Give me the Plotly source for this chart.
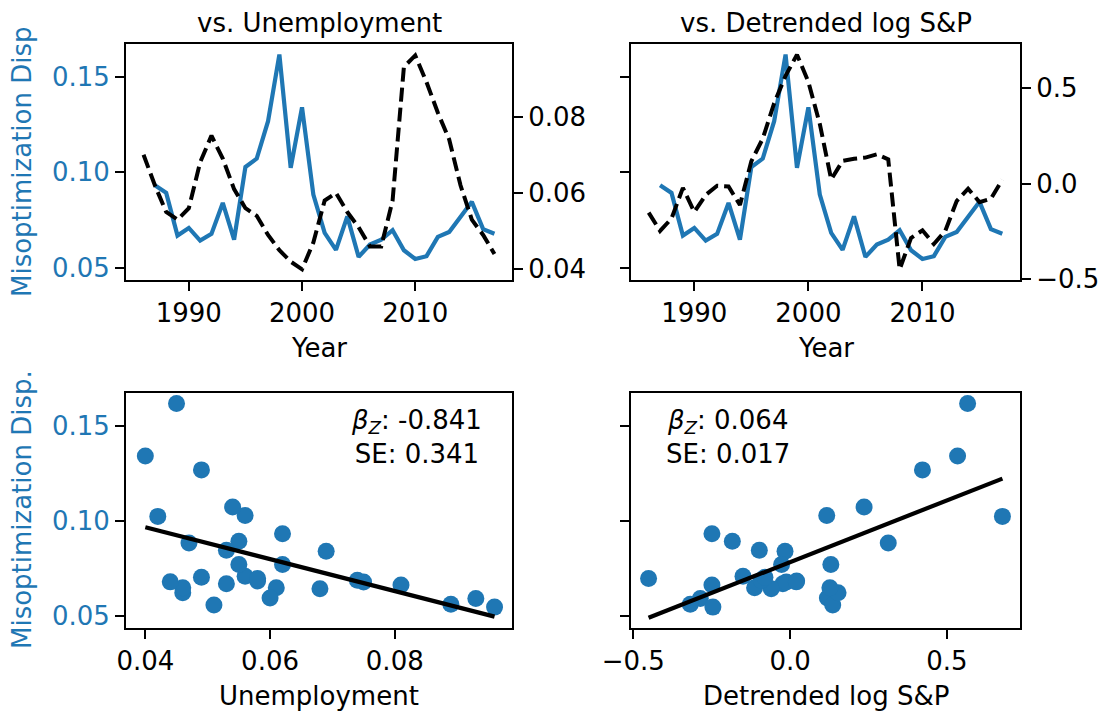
import numpy as np
import plotly.graph_objects as go

# ---------------- data ----------------
years = list(range(1986, 2018))
unemployment = [0.070, 0.062, 0.055, 0.053, 0.056, 0.068, 0.075, 0.069, 0.061, 0.056,
                0.054, 0.049, 0.045, 0.042, 0.040, 0.047, 0.058, 0.060, 0.055, 0.051,
                0.046, 0.046, 0.058, 0.093, 0.096, 0.089, 0.081, 0.074, 0.062, 0.053,
                0.049, 0.044]
sp_detrended = [-0.153, -0.249, -0.184, -0.023, -0.150, -0.060, -0.012, -0.016, -0.113, 0.117,
                0.236, 0.422, 0.566, 0.677, 0.534, 0.313, 0.021, 0.119, 0.130, 0.136,
                0.153, 0.127, -0.451, -0.286, -0.246, -0.318, -0.249, -0.092, -0.027, -0.098,
                -0.080, 0.020]
disp_years = list(range(1987, 2018))
misopt_disp = [0.0932, 0.0892, 0.0668, 0.0708, 0.0642, 0.0677, 0.0839, 0.0647, 0.1028, 0.1072,
               0.1268, 0.1618, 0.1023, 0.1341, 0.0883, 0.0682, 0.0593, 0.0769, 0.0556, 0.0621,
               0.0647, 0.0696, 0.0591, 0.0545, 0.0560, 0.0661, 0.0687, 0.0770, 0.0845, 0.0702,
               0.0678]
year_ticks = [1990, 2000, 2010]
disp_ticks = [0.05, 0.10, 0.15]
unemp_ticks = [0.04, 0.06, 0.08]
sp_ticks = [-0.5, 0.0, 0.5]
stats_unemp = ("-0.841", "0.341")
stats_sp = ("0.064", "0.017")

# pair same-year observations
u_pair = [unemployment[years.index(y)] for y in disp_years]
s_pair = [sp_detrended[years.index(y)] for y in disp_years]

def fit_line(x, y):
    b, a = np.polyfit(x, y, 1)
    xs = np.array([min(x), max(x)])
    return xs, a + b * xs

fu_x, fu_y = fit_line(u_pair, misopt_disp)
fs_x, fs_y = fit_line(s_pair, misopt_disp)

BLUE = "#1f77b4"
W, H = 1108, 715
FONT = "DejaVu Sans"
FS = 26

XL = [126 / W, 512 / W]
XR = [631 / W, 1020 / W]
YT = [1 - 280 / H, 1 - 44 / H]
YB = [1 - 628 / H, 1 - 393 / H]

fig = go.Figure()
# top-left
fig.add_trace(go.Scatter(x=disp_years, y=misopt_disp, mode="lines",
                         line=dict(color=BLUE, width=4.2), xaxis="x", yaxis="y", showlegend=False))
fig.add_trace(go.Scatter(x=years, y=unemployment, mode="lines",
                         line=dict(color="black", width=4, dash="14px,6px"),
                         xaxis="x", yaxis="y2", showlegend=False))
# top-right
fig.add_trace(go.Scatter(x=disp_years, y=misopt_disp, mode="lines",
                         line=dict(color=BLUE, width=4.2), xaxis="x2", yaxis="y3", showlegend=False))
fig.add_trace(go.Scatter(x=years, y=sp_detrended, mode="lines",
                         line=dict(color="black", width=4, dash="14px,6px"),
                         xaxis="x2", yaxis="y4", showlegend=False))
# bottom-left
fig.add_trace(go.Scatter(x=u_pair, y=misopt_disp, mode="markers",
                         marker=dict(color=BLUE, size=17, line=dict(width=0)),
                         xaxis="x3", yaxis="y5", showlegend=False))
fig.add_trace(go.Scatter(x=fu_x, y=fu_y, mode="lines", line=dict(color="black", width=4.2),
                         xaxis="x3", yaxis="y5", showlegend=False))
# bottom-right
fig.add_trace(go.Scatter(x=s_pair, y=misopt_disp, mode="markers",
                         marker=dict(color=BLUE, size=17, line=dict(width=0)),
                         xaxis="x4", yaxis="y6", showlegend=False))
fig.add_trace(go.Scatter(x=fs_x, y=fs_y, mode="lines", line=dict(color="black", width=4.2),
                         xaxis="x4", yaxis="y6", showlegend=False))

common = dict(showgrid=False, zeroline=False, showline=True, linecolor="black", linewidth=2,
              ticks="outside", ticklen=9, tickwidth=2, tickcolor="black", automargin=False,
              tickfont=dict(family=FONT, size=FS, color="black"))

yr_range = [1984.45, 2018.55]
disp_range = [0.0435, 0.1673]

fig.update_layout(
    width=W, height=H, margin=dict(l=0, r=0, t=0, b=0, autoexpand=False),
    paper_bgcolor="white", plot_bgcolor="white",
    font=dict(family=FONT, size=FS, color="black"),
    xaxis=dict(common, domain=XL, anchor="y", range=yr_range, tickvals=year_ticks, mirror=True),
    yaxis=dict(common, domain=YT, anchor="x", range=disp_range, tickvals=disp_ticks,
               tickformat=".2f", tickfont=dict(family=FONT, size=FS, color=BLUE)),
    yaxis2=dict(common, overlaying="y", side="right", anchor="x", range=[0.0372, 0.0990],
                tickvals=unemp_ticks, tickformat=".2f"),
    xaxis2=dict(common, domain=XR, anchor="y3", range=yr_range, tickvals=year_ticks, mirror=True),
    yaxis3=dict(common, domain=YT, anchor="x2", range=disp_range, tickvals=disp_ticks,
                showticklabels=False),
    yaxis4=dict(common, overlaying="y3", side="right", anchor="x2", range=[-0.507, 0.733],
                tickvals=sp_ticks, tickformat=".1f"),
    xaxis3=dict(common, domain=XL, anchor="y5", range=[0.0369, 0.0988], tickvals=unemp_ticks,
                tickformat=".2f", mirror=True),
    yaxis5=dict(common, domain=YB, anchor="x3", range=disp_range, tickvals=disp_ticks,
                tickformat=".2f", mirror=True, tickfont=dict(family=FONT, size=FS, color=BLUE)),
    xaxis4=dict(common, domain=XR, anchor="y6", range=[-0.507, 0.733], tickvals=sp_ticks,
                tickformat=".1f", mirror=True),
    yaxis6=dict(common, domain=YB, anchor="x4", range=disp_range, tickvals=disp_ticks,
                showticklabels=False, mirror=True),
)

def px_x(p):
    return p / W

def px_y(p):
    return 1 - p / H

ann = []
def add_text(text, x, y, xanchor="center", yanchor="middle", angle=0, color="black", align="center"):
    ann.append(dict(text=text, x=px_x(x), y=px_y(y), xref="paper", yref="paper",
                    xanchor=xanchor, yanchor=yanchor, showarrow=False, textangle=angle,
                    align=align, font=dict(family=FONT, size=FS, color=color)))

add_text("vs. Unemployment", 319, 40, yanchor="bottom")
add_text("vs. Detrended log S&amp;P", 825.5, 40, yanchor="bottom")
add_text("Year", 319, 348)
add_text("Year", 825.5, 348)
add_text("Unemployment", 319, 696)
add_text("Detrended log S&amp;P", 825.5, 696)
add_text("Misoptimization Disp", 22, 162, angle=-90, color=BLUE)
add_text("Misoptimization Disp.", 22, 510, angle=-90, color=BLUE)
add_text("<i>β</i><sub><i>Z</i></sub>: %s<br>SE: %s" % stats_unemp, 416.5, 437)
add_text("<i>β</i><sub><i>Z</i></sub>: %s<br>SE: %s" % stats_sp, 728, 437)
fig.update_layout(annotations=ann)

fig.write_html("out.html", config={"displayModeBar": False},
               post_script="document.body.style.margin='0';document.body.style.overflow='hidden';")
